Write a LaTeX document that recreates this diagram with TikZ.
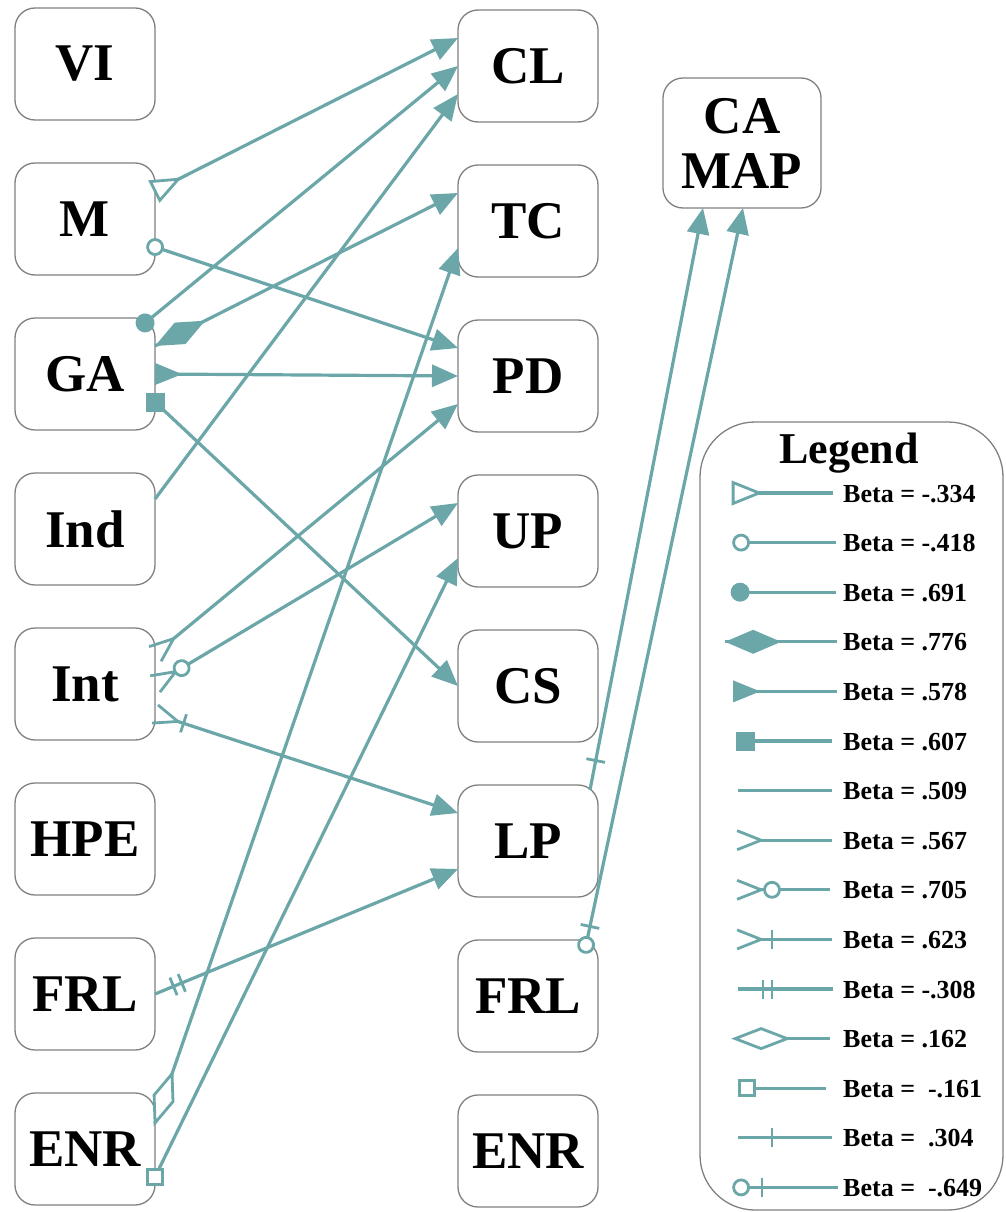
\documentclass[tikz,border=0pt]{standalone}
\usepackage{fontspec}
\setmainfont{Liberation Serif}
\usepackage{tikz}
\usetikzlibrary{positioning,arrows.meta,decorations.markings}

\definecolor{linkteal}{RGB}{107,166,168}
\definecolor{boxgray}{RGB}{128,128,128}
\newcommand\boxfont{\fontsize{53}{55}\selectfont\bfseries}
\newcommand\legfont{\fontsize{26}{28}\selectfont\bfseries}
\newcommand\titlefont{\fontsize{44}{46}\selectfont\bfseries}

% --- start markers of the paths (drawn in the frame of the path) ---
\tikzset{
  mkline/.style={-,shorten <=0pt,shorten >=0pt,draw=linkteal,line width=2.8pt},
  otri/.style={postaction={decorate,decoration={markings,
      mark=at position 0.1pt with {\draw[mkline,fill=white] (0pt,10.5pt)--(26pt,0pt)--(0pt,-10.5pt)--cycle;}}}},
  ftri/.style={postaction={decorate,decoration={markings,
      mark=at position 0.1pt with {\fill[linkteal] (0pt,11pt)--(27pt,0pt)--(0pt,-11pt)--cycle;}}}},
  ocirc/.style={postaction={decorate,decoration={markings,
      mark=at position #1 with {\draw[mkline,fill=white] (0,0) circle (7.5pt);}}}},
  ocirc/.default=0.1pt,
  fcirc/.style={postaction={decorate,decoration={markings,
      mark=at position 0.1pt with {\fill[linkteal] (0,0) circle (9.5pt);}}}},
  fkite/.style={postaction={decorate,decoration={markings,
      mark=at position 0.1pt with {\fill[linkteal] (0pt,0pt)--(28pt,12pt)--(56pt,0pt)--(28pt,-12pt)--cycle;}}}},
  okite/.style={postaction={decorate,decoration={markings,
      mark=at position 0.1pt with {\draw[mkline,fill=white] (0pt,0pt)--(26pt,10pt)--(52pt,0pt)--(26pt,-10pt)--cycle;}}}},
  fsq/.style={postaction={decorate,decoration={markings,
      mark=at position 0.1pt with {\pgftransformresetnontranslations
        \fill[linkteal] (-9.5pt,-9.5pt) rectangle (9.5pt,9.5pt);}}}},
  osq/.style={postaction={decorate,decoration={markings,
      mark=at position 0.1pt with {\pgftransformresetnontranslations
        \draw[mkline,fill=white] (-7.5pt,-7.5pt) rectangle (7.5pt,7.5pt);}}}},
  crow/.style={shorten <=22pt,postaction={decorate,decoration={markings,
      mark=at position 0.1pt with {\draw[mkline] (0pt,9.5pt)--(24pt,0pt)--(0pt,-9.5pt);}}}},
  barat/.style={postaction={decorate,decoration={markings,
      mark=at position #1 with {\draw[mkline] (0pt,-9.5pt)--(0pt,9.5pt);}}}},
}

\begin{document}
\begin{tikzpicture}[x=1pt,y=-1pt,
  varbox/.style={draw=boxgray,line width=1.3pt,rounded corners=20pt,outer sep=0pt,
                 minimum width=140pt,minimum height=112pt,font=\boxfont},
  link/.style={draw=linkteal,line width=3.2pt,-{Triangle[length=26pt,width=22pt]}},
  legline/.style={draw=linkteal,line width=3.2pt},
  betatxt/.style={anchor=base west,inner sep=0pt,font=\legfont},
  node distance=43pt]
  \useasboundingbox (0,0) rectangle (1005,1212);
  % --- predictors ---
  \node[varbox] (vi) at (85,64) {VI};
  \node[varbox,below=of vi]  (m)   {M};
  \node[varbox,below=of m]   (ga)  {GA};
  \node[varbox,below=of ga]  (ind) {Ind};
  \node[varbox,below=of ind] (int) {Int};
  \node[varbox,below=of int] (hpe) {HPE};
  \node[varbox,below=of hpe] (frl) {FRL};
  \node[varbox,below=of frl] (enr) {ENR};
  % --- outcomes ---
  \node[varbox] (cl) at (528,66) {CL};
  \node[varbox,below=of cl]   (tc)   {TC};
  \node[varbox,below=of tc]   (pd)   {PD};
  \node[varbox,below=of pd]   (up)   {UP};
  \node[varbox,below=of up]   (cs)   {CS};
  \node[varbox,below=of cs]   (lp)   {LP};
  \node[varbox,below=of lp]   (frlb) {FRL};
  \node[varbox,below=of frlb] (enrb) {ENR};
  \node[varbox,minimum width=158pt,minimum height=130pt,align=center] (camap) at (742,143) {CA\\MAP};
  % --- paths ---
  \draw[link,otri] ([yshift=28pt]m.east) -- ([yshift=28pt]cl.west);
  \draw[link,ocirc] ([yshift=-28pt]m.east) -- ([yshift=28pt]pd.west);
  \draw[link,fcirc] ([xshift=-10pt,yshift=-5pt]ga.north east) -- (cl.west);
  \draw[link,fkite] ([yshift=28pt]ga.east) -- ([yshift=28pt]tc.west);
  \draw[link,ftri] (ga.east) -- (pd.west);
  \draw[link,fsq] ([yshift=-28pt]ga.east) -- (cs.west);
  \draw[link] ([yshift=30pt]ind.east) -- ([yshift=-28pt]cl.west);
  \draw[link,crow] ([yshift=30pt]int.east) -- ([yshift=-28pt]pd.west);
  \draw[link,crow,ocirc=31pt] (int.east) -- ([yshift=28pt]up.west);
  \draw[link,crow,barat=30pt] ([yshift=-30pt]int.east) -- ([yshift=28pt]lp.west);
  \draw[link,barat=20pt,barat=29pt] (frl.east) -- ([yshift=-28pt]lp.west);
  \draw[link,okite] ([yshift=26pt]enr.east) -- ([yshift=-27pt]tc.west);
  \draw[link,osq] ([yshift=-28pt]enr.east) -- ([yshift=-27pt]up.west);
  \draw[link,barat=30pt] ([xshift=-8pt,yshift=-5pt]lp.north east) -- ([xshift=-39pt]camap.south);
  \draw[link,ocirc,barat=19pt] ([xshift=-12pt,yshift=-5pt]frlb.north east) -- ([xshift=1pt]camap.south);
  % --- legend ---
  \node[draw=boxgray,line width=1.3pt,rounded corners=55pt,outer sep=0pt,
        minimum width=303pt,minimum height=788pt] (legbox) at (851.5,816) {};
  \node[font=\titlefont,anchor=base] (legtitle) at (849,463) {Legend};
  \foreach \txt [count=\i] in {{Beta = -.334},{Beta = -.418},{Beta = .691},{Beta = .776},
      {Beta = .578},{Beta = .607},{Beta = .509},{Beta = .567},{Beta = .705},{Beta = .623},
      {Beta = -.308},{Beta = .162},{Beta = \ -.161},{Beta = \ .304},{Beta = \ -.649}}
    \node[betatxt] (b\i) at (843,{493+49.6*(\i-1)+9}) {\txt};
  \draw[legline,otri] (733,493) -- (833,493);
  \draw[legline,ocirc] (741,542.6) -- (836,542.6);
  \draw[legline,fcirc] (740,592.2) -- (836,592.2);
  \draw[legline,fkite] (725,641.8) -- (837,641.8);
  \draw[legline,ftri] (733,691.4) -- (837,691.4);
  \draw[legline,fsq] (745,741) -- (832,741);
  \draw[legline] (738,790.6) -- (832,790.6);
  \draw[legline,crow] (737,840.2) -- (832,840.2);
  \draw[legline,crow,ocirc=35pt] (737,889.8) -- (830,889.8);
  \draw[legline,crow,barat=35pt] (737,939.4) -- (832,939.4);
  \draw[legline,barat=25pt,barat=34pt] (738,989) -- (833,989);
  \draw[legline,okite] (735,1038.6) -- (830,1038.6);
  \draw[legline,osq] (747,1088.2) -- (826,1088.2);
  \draw[legline,barat=34pt] (738,1137.8) -- (832,1137.8);
  \draw[legline,ocirc,barat=21pt] (741,1187.4) -- (838,1187.4);
\end{tikzpicture}
\end{document}
